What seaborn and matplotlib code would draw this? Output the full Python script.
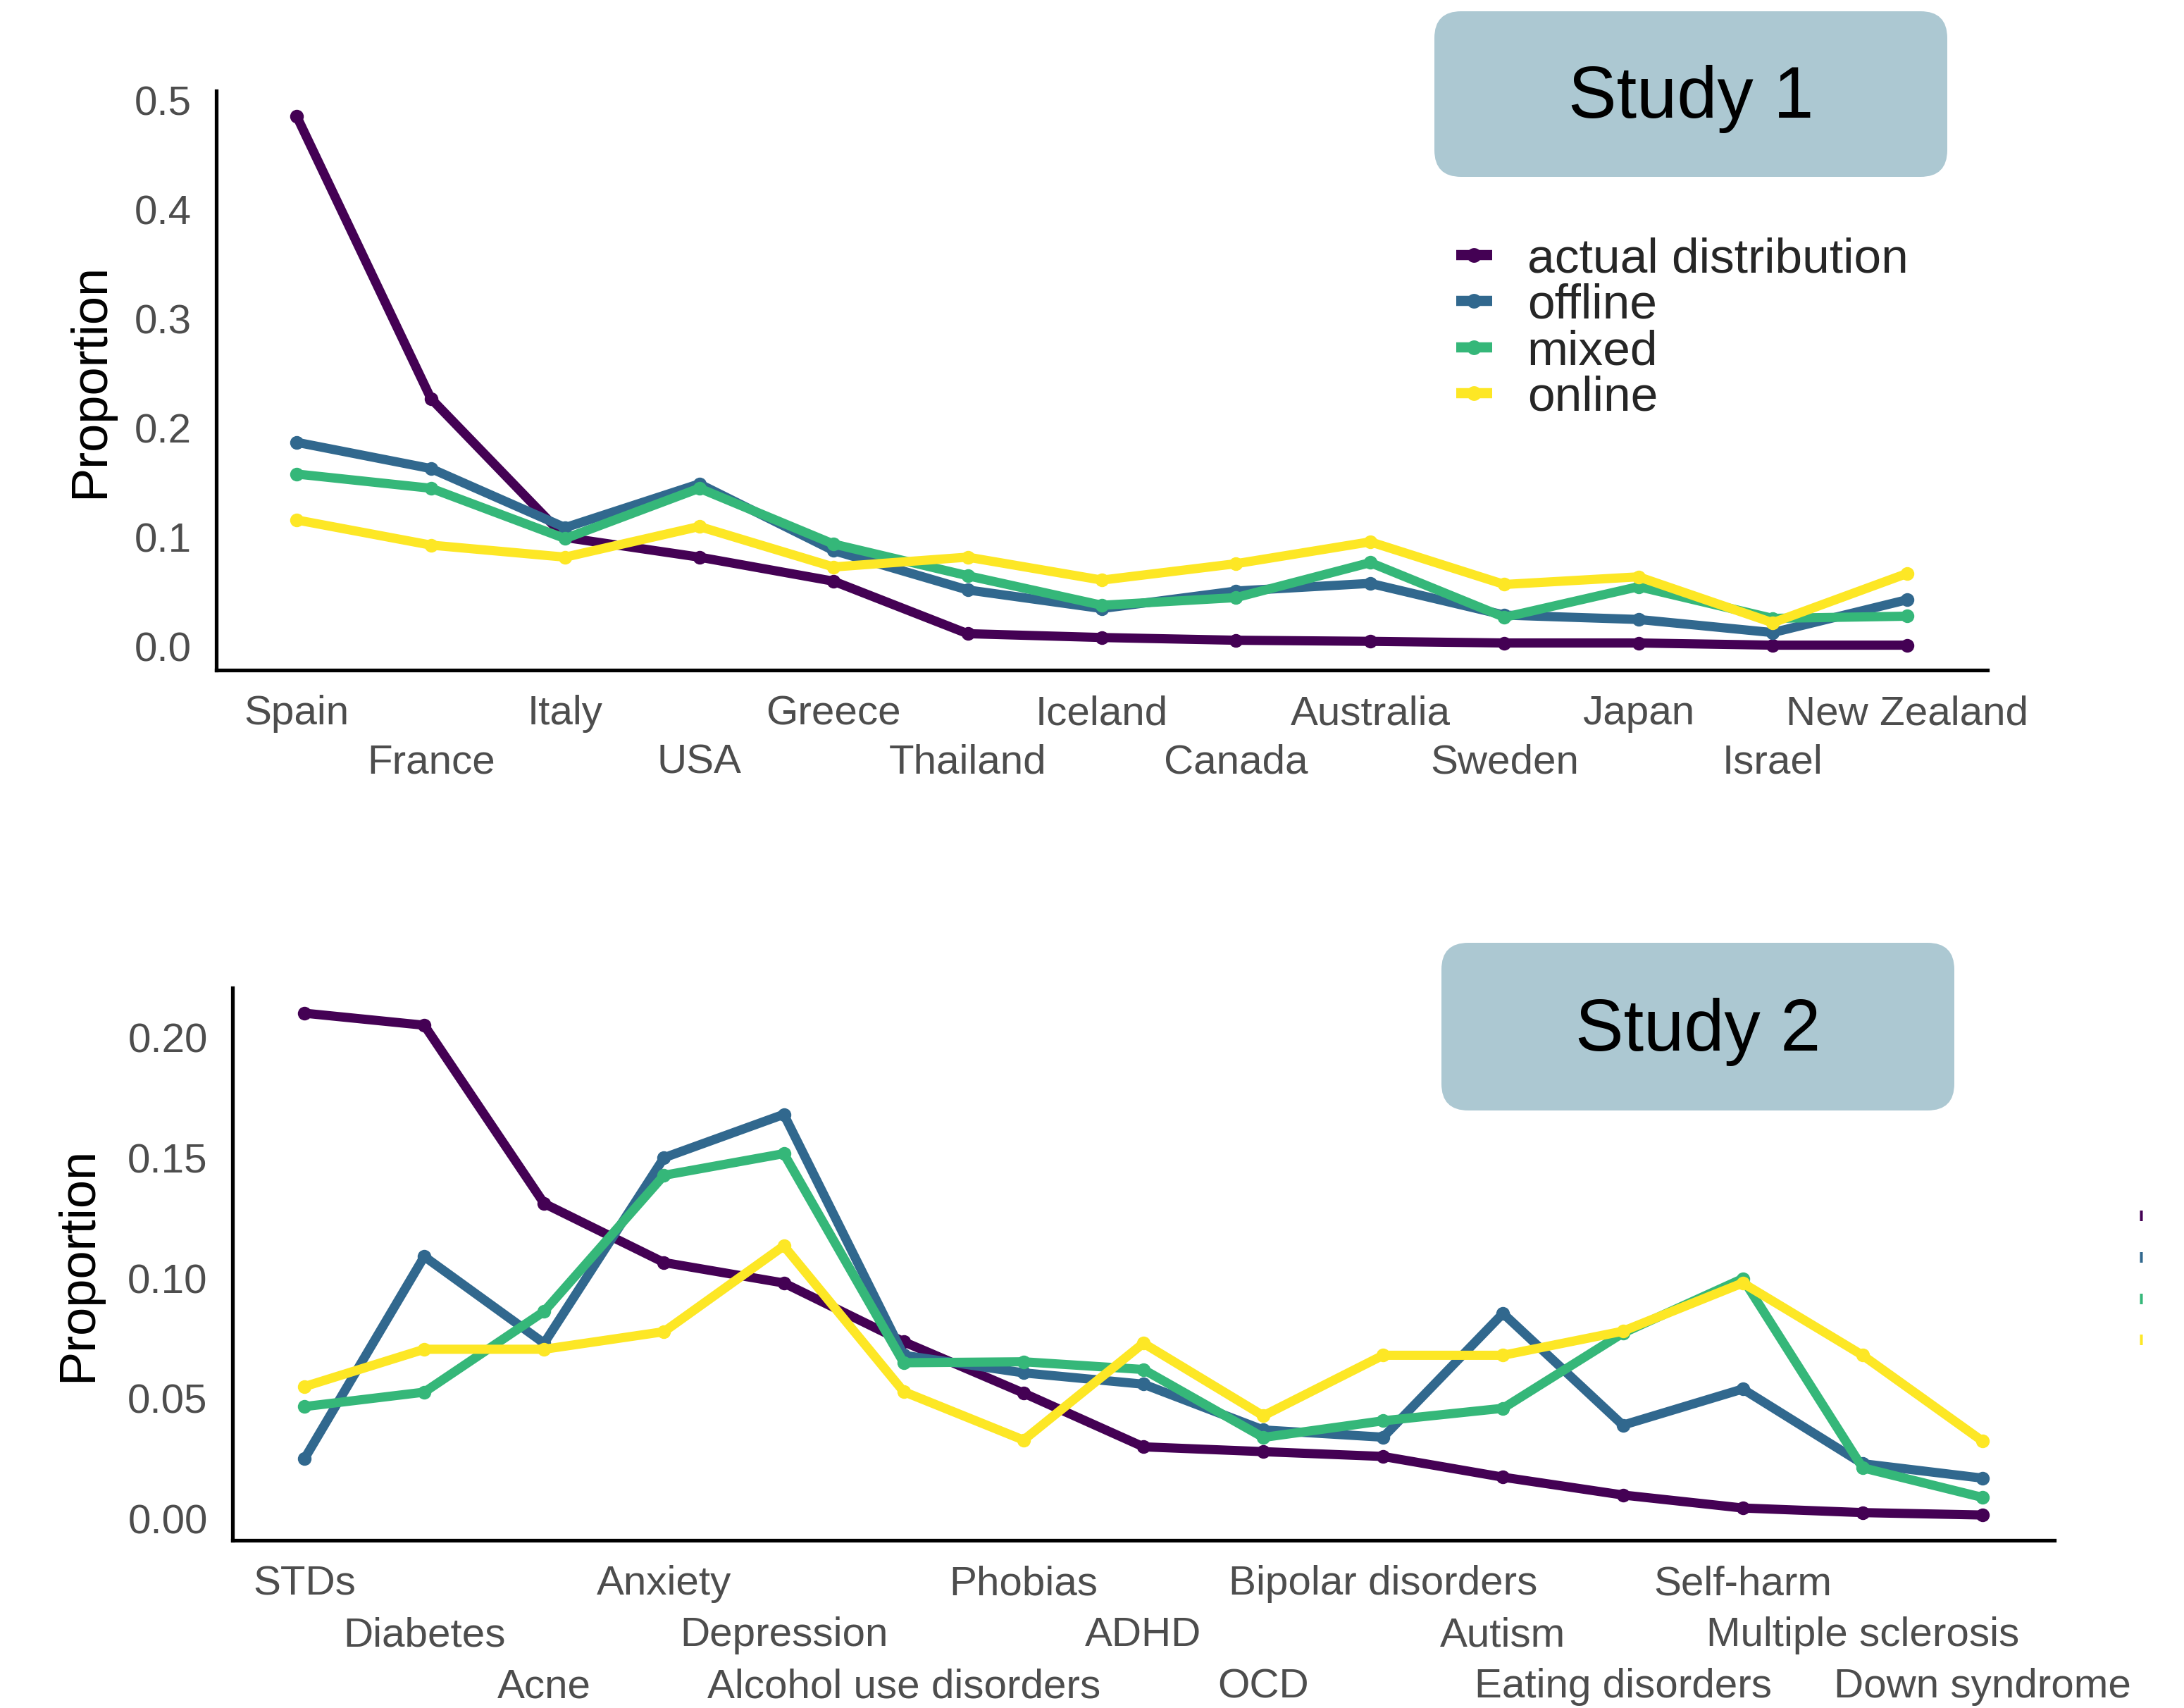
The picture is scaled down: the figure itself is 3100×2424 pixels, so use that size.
import matplotlib
matplotlib.use("Agg")
import pandas as pd
import matplotlib.pyplot as plt
import seaborn as sns
from matplotlib.lines import Line2D
from matplotlib.patches import FancyBboxPatch
from matplotlib.transforms import IdentityTransform

# ---- data -------------------------------------------------------------
sources = ["actual distribution", "offline", "mixed", "online"]
colors = ["#440154", "#31688E", "#35B779", "#FDE725"]

countries = ["Spain", "France", "Italy", "USA", "Greece", "Thailand", "Iceland",
             "Canada", "Australia", "Sweden", "Japan", "Israel", "New Zealand"]
s1_actual = [0.485, 0.227, 0.100, 0.082, 0.060, 0.012, 0.0085, 0.006, 0.005,
             0.0035, 0.0035, 0.0015, 0.0015]
s1_offline = [0.187, 0.163, 0.109, 0.149, 0.088, 0.052, 0.035, 0.051, 0.058,
              0.029, 0.025, 0.013, 0.043]
s1_mixed = [0.158, 0.145, 0.099, 0.145, 0.094, 0.065, 0.038, 0.045, 0.077,
            0.027, 0.055, 0.026, 0.028]
s1_online = [0.116, 0.093, 0.082, 0.110, 0.073, 0.082, 0.061, 0.076, 0.096,
             0.057, 0.064, 0.022, 0.067]

conditions = ["STDs", "Diabetes", "Acne", "Anxiety", "Depression",
              "Alcohol use disorders", "Phobias", "ADHD", "OCD",
              "Bipolar disorders", "Autism", "Eating disorders", "Self-harm",
              "Multiple sclerosis", "Down syndrome"]
s2_actual = [0.210, 0.205, 0.131, 0.1065, 0.098, 0.0736, 0.0523, 0.030, 0.028,
             0.026, 0.0174, 0.010, 0.0046, 0.0027, 0.0017]
s2_offline = [0.025, 0.109, 0.073, 0.150, 0.168, 0.068, 0.0607, 0.056, 0.037,
              0.034, 0.0854, 0.039, 0.054, 0.023, 0.017]
s2_mixed = [0.0467, 0.0527, 0.0862, 0.1427, 0.1517, 0.0649, 0.0653, 0.0621,
            0.0339, 0.0408, 0.046, 0.0772, 0.0998, 0.0213, 0.009]
s2_online = [0.055, 0.0705, 0.0705, 0.0778, 0.1134, 0.0529, 0.0328, 0.073,
             0.0429, 0.068, 0.068, 0.078, 0.098, 0.068, 0.0324]

s1_yticks = [0.0, 0.1, 0.2, 0.3, 0.4, 0.5]
s1_ylabels = ["0.0", "0.1", "0.2", "0.3", "0.4", "0.5"]
s2_yticks = [0.0, 0.05, 0.10, 0.15, 0.20]
s2_ylabels = ["0.00", "0.05", "0.10", "0.15", "0.20"]


def long_frame(labels, series):
    parts = []
    for name, vals in zip(sources, series):
        parts.append(pd.DataFrame({"label": labels, "value": vals, "source": name}))
    return pd.concat(parts, ignore_index=True)


df1 = long_frame(countries, [s1_actual, s1_offline, s1_mixed, s1_online])
df2 = long_frame(conditions, [s2_actual, s2_offline, s2_mixed, s2_online])
palette = dict(zip(sources, colors))

sns.set_style("white")
plt.rcParams["font.family"] = ["Liberation Sans", "DejaVu Sans"]

W, H, DPI = 3100, 2424, 200
fig = plt.figure(figsize=(W / DPI, H / DPI), dpi=DPI)

ax1 = fig.add_axes([307 / W, 1 - 951 / H, (2821 - 307) / W, (951 - 129) / H])
ax2 = fig.add_axes([330 / W, 1 - 2186 / H, (2916 - 330) / W, (2186 - 1402) / H])


def draw_panel(ax, df, labels, ylim, yticks, ylabels, nrows, row_pitch, lab_x):
    sns.pointplot(data=df, x="label", y="value", hue="source", order=labels,
                  hue_order=sources, palette=palette, errorbar=None, ax=ax,
                  legend=False, markersize=7, markeredgewidth=0,
                  linewidth=4.7, solid_joinstyle="round")
    ax.set_xlim(-0.6, len(labels) - 1 + 0.6)
    ax.set_ylim(*ylim)
    ax.set_yticks(yticks)
    ax.set_yticklabels(ylabels)
    ax.set_xticks(range(len(labels)))
    ax.set_xticklabels(labels)
    sns.despine(ax=ax)
    for side in ["left", "bottom"]:
        ax.spines[side].set_linewidth(1.9)
        ax.spines[side].set_color("black")
    ax.tick_params(axis="both", length=6.2, width=2.0, color="#333333",
                   labelsize=21, labelcolor="#4D4D4D", pad=6.5)
    # staggered rows of x labels, as with ggplot's n.dodge
    for i, tick in enumerate(ax.xaxis.get_major_ticks()):
        tick.set_pad(6.5 + (i % nrows) * row_pitch)
    ax.set_xlabel("")
    ax.set_ylabel("Proportion", fontsize=26, color="black")
    ax.yaxis.set_label_coords(lab_x, 0.5)


draw_panel(ax1, df1, countries, (-0.0213, 0.5084), s1_yticks, s1_ylabels, 2, 24.8, -0.0575)
draw_panel(ax2, df2, conditions, (-0.0088, 0.2205), s2_yticks, s2_ylabels, 3, 26.3, -0.0715)

# legend of study 1
handles = [Line2D([], [], color=c, lw=5.2, marker="o", markersize=7.5,
                  markeredgewidth=0, solid_capstyle="butt") for c in colors]
ax1.legend(handles, sources, loc="center left",
           bbox_to_anchor=(2067 / W, 1 - 466.5 / H), bbox_transform=fig.transFigure,
           frameon=False, fontsize=25, handlelength=0.73, handletextpad=0.72,
           borderpad=0, borderaxespad=0, labelspacing=0.02)

# legend of study 2, cut off at the right edge
stubs = [Line2D([], [], color=c, lw=5.4, solid_capstyle="butt") for c in colors]
ax2.legend(stubs, ["", "", "", ""], loc="center left",
           bbox_to_anchor=(3037 / W, 1 - 1819 / H), bbox_transform=fig.transFigure,
           frameon=False, fontsize=22, handlelength=0.06, handletextpad=0.5,
           borderpad=0, borderaxespad=0, labelspacing=0.03)

# "Study" header boxes
for (x0, y0, x1, y1), title in [((2036, 16, 2764, 251), "Study 1"),
                                ((2046, 1338, 2774, 1576), "Study 2")]:
    box = FancyBboxPatch((x0, H - y1), x1 - x0, y1 - y0,
                         boxstyle="round,pad=0,rounding_size=38",
                         facecolor="#ACC8D2", edgecolor="none",
                         transform=IdentityTransform())
    fig.add_artist(box)
    fig.text((x0 + x1) / 2 / W, 1 - (y0 + y1) / 2 / H - 0.003, title, fontsize=37,
             ha="center", va="center", color="black")

fig.savefig("out.png", dpi=DPI, facecolor="white")
